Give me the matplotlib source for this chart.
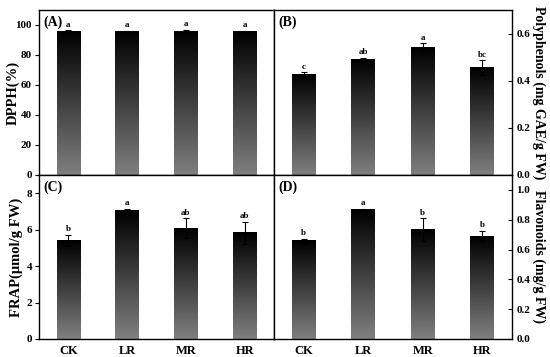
import numpy as np
import matplotlib
matplotlib.use("Agg")
import matplotlib.pyplot as plt

plt.rcParams['font.family'] = ['Liberation Serif', 'DejaVu Serif']
plt.rcParams['font.weight'] = 'bold'
plt.rcParams['mathtext.default'] = 'bf'

groups = ['CK', 'LR', 'MR', 'HR']

dpph = [95.5, 95.6, 96.0, 95.5]
dpph_err = [1.0, 0.6, 0.8, 0.6]
dpph_sig = ['a', 'a', 'a', 'a']

poly = [0.428, 0.491, 0.543, 0.456]
poly_err = [0.008, 0.006, 0.015, 0.031]
poly_sig = ['c', 'ab', 'a', 'bc']

frap = [5.43, 7.05, 6.07, 5.83]
frap_err = [0.30, 0.08, 0.55, 0.60]
frap_sig = ['b', 'a', 'ab', 'ab']

flav = [0.658, 0.869, 0.733, 0.689]
flav_err = [0.015, 0.005, 0.076, 0.035]
flav_sig = ['b', 'a', 'b', 'b']

fig = plt.figure(figsize=(5.5, 3.57), dpi=100)

L, M, R = 39 / 550, 274 / 550, 512 / 550
T, C, B = 1 - 10 / 357, 1 - 175 / 357, 1 - 339 / 357

# gray at the bottom of each bar, black at its top
grad = np.linspace(0.5, 0.0, 256).reshape(-1, 1)


def panel(rect, vals, errs, sigs, ylim, yticks, fmt, ylabel, tag,
          right=False, bottom=False, lx=None):
    ax = fig.add_axes(rect)
    x = np.arange(1, len(vals) + 1)
    bars = ax.bar(x, vals, width=0.4, facecolor='none', edgecolor='none', zorder=2)
    for b in bars:
        x0, w, h = b.get_x(), b.get_width(), b.get_height()
        ax.imshow(grad, cmap='gray', vmin=0, vmax=1, aspect='auto', origin='lower',
                  extent=(x0, x0 + w, 0, h), zorder=1, interpolation='bilinear')
    ax.errorbar(x, vals, yerr=errs, fmt='none', ecolor='black', elinewidth=0.8,
                capsize=2.5, capthick=0.8, zorder=3)
    pad = (ylim[1] - ylim[0]) * 0.01
    for xi, v, e, s in zip(x, vals, errs, sigs):
        ax.text(xi, v + e + pad, s, ha='center', va='bottom', fontsize=6.5,
                fontweight='bold')
    ax.set_xlim(0.5, 4.5)
    ax.set_ylim(*ylim)
    ax.set_yticks(yticks)
    ax.set_yticklabels([fmt.format(t) for t in yticks])
    ax.set_xticks(x)
    if bottom:
        ax.set_xticklabels(groups, fontsize=9, fontweight='bold')
    else:
        ax.set_xticklabels([])
    ax.tick_params(axis='x', length=0, pad=4)
    if right:
        ax.yaxis.tick_right()
        ax.yaxis.set_label_position('right')
        ax.tick_params(axis='y', direction='in', length=3, labelsize=8, pad=3)
        ax.set_ylabel(ylabel, fontsize=10, fontweight='bold', rotation=270, labelpad=11)
    else:
        ax.tick_params(axis='y', direction='out', length=3, labelsize=8, pad=2)
        ax.set_ylabel(ylabel, fontsize=10.5, fontweight='bold')
        ax.yaxis.set_label_coords(lx, 0.5)
    ax.text(0.02, 0.965, tag, transform=ax.transAxes, ha='left', va='top',
            fontsize=10, fontweight='bold')
    for sp in ax.spines.values():
        sp.set_linewidth(1.0)
    return ax


panel([L, C, M - L, T - C], dpph, dpph_err, dpph_sig, (0, 110),
      [0, 20, 40, 60, 80, 100], '{:.0f}', 'DPPH(%)', '(A)', lx=-0.08)
panel([M, C, R - M, T - C], poly, poly_err, poly_sig, (0, 0.7),
      [0.0, 0.2, 0.4, 0.6], '{:.1f}', 'Polyphenols (mg GAE/g FW)', '(B)', right=True)
panel([L, B, M - L, C - B], frap, frap_err, frap_sig, (0, 9),
      [0, 2, 4, 6, 8], '{:.0f}', 'FRAP(μmol/g FW)', '(C)', bottom=True, lx=-0.07)
panel([M, B, R - M, C - B], flav, flav_err, flav_sig, (0, 1.1),
      [0.0, 0.2, 0.4, 0.6, 0.8, 1.0], '{:.1f}', 'Flavonoids (mg/g FW)', '(D)',
      right=True, bottom=True)

fig.savefig('out.png', dpi=100)
